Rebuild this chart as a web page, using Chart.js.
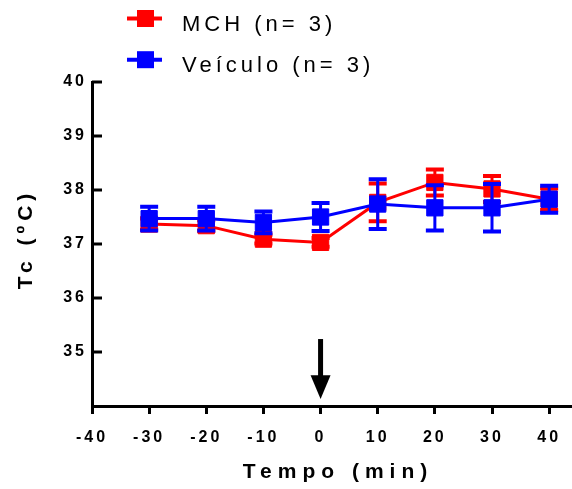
<!DOCTYPE html>
<html>
<head>
<meta charset="utf-8">
<script src="https://cdn.jsdelivr.net/npm/chart.js@4"></script>
<style>
  body { margin: 0; background: #fff; }
  canvas { display: block; }
</style>
</head>
<body>
<canvas id="tcChart" width="572" height="489"></canvas>
<script>
// time points (min) and the two series, mean +/- SEM
const times = [-30, -20, -10, 0, 10, 20, 30, 40];
const mchMean = [37.37, 37.34, 37.09, 37.03, 37.77, 38.14, 38.02, 37.83];
const mchErr = [0.1, 0.1, 0.08, 0.08, 0.35, 0.24, 0.24, 0.2];
const vehMean = [37.47, 37.47, 37.40, 37.50, 37.74, 37.67, 37.67, 37.83];
const vehErr = [0.22, 0.22, 0.2, 0.26, 0.46, 0.42, 0.44, 0.25];

const seriesLabels = ["MCH (n= 3)", "Veículo (n= 3)"];
const xTicks = [-40, -30, -20, -10, 0, 10, 20, 30, 40];
const yTicks = [35, 36, 37, 38, 39, 40];

// injection arrow (x in min, y in ºC)
const arrowX = 0;
const arrowTop = 35.24;
const arrowHead = 34.57;
const arrowTip = 34.13;

const FONT = "'Liberation Sans', Arial, sans-serif";
const ctx = document.getElementById("tcChart");

const toPoints = (means) => means.map((m, i) => ({ x: times[i], y: m }));

// error bars drawn before each dataset so the symbols sit on top
const errorBars = {
  id: "errorBars",
  beforeDatasetDraw(chart, args) {
    const ds = chart.data.datasets[args.index];
    const xs = chart.scales.x;
    const ys = chart.scales.y;
    const c = chart.ctx;
    c.save();
    c.strokeStyle = ds.borderColor;
    ds.errors.forEach((e, i) => {
      const px = xs.getPixelForValue(times[i]);
      const hi = ys.getPixelForValue(ds.data[i].y + e);
      const lo = ys.getPixelForValue(ds.data[i].y - e);
      c.lineWidth = 3;
      c.beginPath();
      c.moveTo(px, hi);
      c.lineTo(px, lo);
      c.stroke();
      c.lineWidth = 4;
      c.beginPath();
      c.moveTo(px - 9, hi);
      c.lineTo(px + 9, hi);
      c.moveTo(px - 9, lo);
      c.lineTo(px + 9, lo);
      c.stroke();
    });
    c.restore();
  },
};

// spacing of the letters, GraphPad style
const spacing = {
  id: "spacing",
  beforeLayout(chart) {
    chart.ctx.letterSpacing = "3px";
  },
  beforeDraw(chart) {
    chart.ctx.letterSpacing = "3px";
  },
};

// legend, titles, inward y ticks and the arrow
const extras = {
  id: "extras",
  afterDraw(chart) {
    const c = chart.ctx;
    const xs = chart.scales.x;
    const ys = chart.scales.y;
    const area = chart.chartArea;
    c.save();

    // y ticks point inward
    c.strokeStyle = "#000";
    c.lineWidth = 3;
    yTicks.forEach((v) => {
      const py = ys.getPixelForValue(v);
      c.beginPath();
      c.moveTo(area.left, py);
      c.lineTo(area.left + 10, py);
      c.stroke();
    });

    // arrow at the injection time
    const ax = xs.getPixelForValue(arrowX);
    c.lineWidth = 5;
    c.beginPath();
    c.moveTo(ax, ys.getPixelForValue(arrowTop));
    c.lineTo(ax, ys.getPixelForValue(arrowHead) + 2);
    c.stroke();
    c.fillStyle = "#000";
    c.beginPath();
    c.moveTo(ax - 10, ys.getPixelForValue(arrowHead));
    c.lineTo(ax + 10, ys.getPixelForValue(arrowHead));
    c.lineTo(ax, ys.getPixelForValue(arrowTip));
    c.closePath();
    c.fill();

    // axis titles
    c.fillStyle = "#000";
    c.font = "bold 21px " + FONT;
    c.letterSpacing = "6px";
    c.textAlign = "center";
    c.textBaseline = "alphabetic";
    c.fillText("Tempo (min)", 338, 478);
    c.letterSpacing = "5px";
    c.save();
    c.translate(32, 239);
    c.rotate(-Math.PI / 2);
    c.fillText("Tc (ºC)", 0, 0);
    c.restore();

    // legend
    const rows = [18.5, 59.7];
    chart.data.datasets.forEach((ds, i) => {
      const y = rows[i];
      c.strokeStyle = ds.borderColor;
      c.fillStyle = ds.borderColor;
      c.lineWidth = 4;
      c.beginPath();
      c.moveTo(127, y);
      c.lineTo(162, y);
      c.stroke();
      c.fillRect(137, y - 8.5, 17, 17);
      c.fillStyle = "#000";
      c.font = "22px " + FONT;
      c.letterSpacing = "4px";
      c.textAlign = "left";
      c.fillText(ds.label, 182, y + 12);
    });

    c.restore();
  },
};

const tcChart = new Chart(ctx, {
  type: "line",
  data: {
    datasets: [
      {
        label: seriesLabels[0],
        data: toPoints(mchMean),
        errors: mchErr,
        borderColor: "#ff0000",
        backgroundColor: "#ff0000",
        pointBackgroundColor: "#ff0000",
        pointBorderColor: "#ff0000",
        borderWidth: 3,
        pointStyle: "rect",
        pointRadius: 11.5,
        pointBorderWidth: 1,
        order: 1,
      },
      {
        label: seriesLabels[1],
        data: toPoints(vehMean),
        errors: vehErr,
        borderColor: "#0000ff",
        backgroundColor: "#0000ff",
        pointBackgroundColor: "#0000ff",
        pointBorderColor: "#0000ff",
        borderWidth: 3,
        pointStyle: "rect",
        pointRadius: 11.5,
        pointBorderWidth: 1,
        order: 0,
      },
    ],
  },
  options: {
    responsive: false,
    devicePixelRatio: 1,
    animation: false,
    layout: {
      autoPadding: false,
      padding: { top: 82, right: 0, bottom: 0, left: 0 },
    },
    plugins: {
      legend: { display: false },
      tooltip: { enabled: false },
    },
    scales: {
      x: {
        type: "linear",
        min: -40,
        max: 44,
        afterBuildTicks: (scale) => {
          scale.ticks = xTicks.map((v) => ({ value: v }));
        },
        afterFit: (scale) => {
          scale.height = 83;
          scale.paddingRight = 0;
          scale.paddingLeft = 0;
        },
        grid: {
          drawOnChartArea: false,
          drawTicks: true,
          tickLength: 8,
          color: "#000",
          lineWidth: 3,
        },
        border: { display: true, color: "#000", width: 3 },
        ticks: {
          color: "#000",
          padding: 14,
          maxRotation: 0,
          font: { family: FONT, size: 16, weight: "bold" },
        },
      },
      y: {
        type: "linear",
        min: 34,
        max: 40,
        afterBuildTicks: (scale) => {
          scale.ticks = yTicks.map((v) => ({ value: v }));
        },
        afterFit: (scale) => {
          scale.width = 92;
        },
        grid: {
          drawOnChartArea: false,
          drawTicks: false,
        },
        border: { display: true, color: "#000", width: 3 },
        ticks: {
          color: "#000",
          padding: 5,
          font: { family: FONT, size: 16, weight: "bold" },
        },
      },
    },
  },
  plugins: [spacing, errorBars, extras],
});
</script>
</body>
</html>
